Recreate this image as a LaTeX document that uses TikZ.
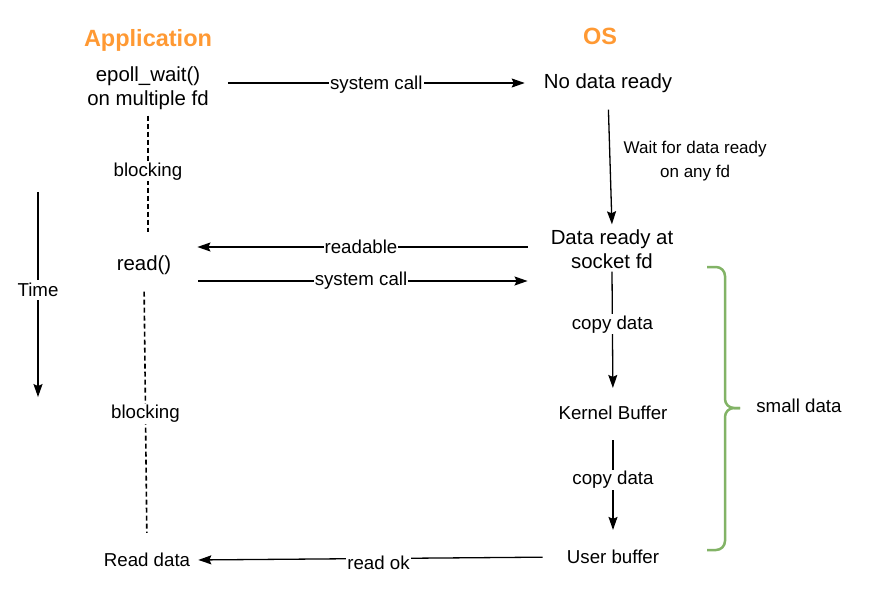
\documentclass[tikz,border=0pt]{standalone}
\usepackage{fontspec}
\setmainfont{Liberation Sans}
\usepackage{tikz}
\usetikzlibrary{arrows.meta}
\definecolor{apporange}{HTML}{FF9933}
\definecolor{bracegreen}{HTML}{82B366}
\tikzstyle{heading} = [font=\fontsize{23.5}{28}\selectfont\bfseries, text=apporange]
\tikzstyle{event} = [font=\fontsize{20.4}{24}\selectfont, align=center, inner sep=3pt]
\tikzstyle{note} = [font=\fontsize{18.7}{22}\selectfont, inner sep=3pt]
\tikzstyle{waitnote} = [font=\fontsize{17}{24}\selectfont, align=center, inner sep=3pt]
\tikzstyle{tag} = [font=\fontsize{18.7}{22}\selectfont, fill=white, inner sep=1pt]
\tikzstyle{arrow} = [line width=1.3pt, -{Stealth[length=13pt,width=9pt,inset=2pt]}]
\tikzstyle{blockline} = [line width=1.6pt, dash pattern=on 5pt off 3pt]
\tikzstyle{brace} = [line width=2.5pt, draw=bracegreen, rounded corners=9pt]
\begin{document}
\begin{tikzpicture}[node distance=24pt, x=1pt, y=1pt]
\useasboundingbox (0,0) rectangle (876,-602);
\node (app) [heading] at (148,-40) {Application};
\node (os) [heading, right of=app, xshift=428pt, yshift=4pt] {OS};
\node (ep) [event, below of=app, yshift=-24pt] {epoll\_wait()\\on multiple fd};
\node (nd) [event, below of=os, yshift=-23pt, xshift=8pt] {No data ready};
\node (rd) [event, below of=ep, yshift=-153pt, xshift=-4pt] {read()};
\node (dr) [event, below of=nd, yshift=-142pt, xshift=4pt] {Data ready at\\socket fd};
\node (kb) [note, below of=dr, yshift=-140pt, xshift=1pt] {Kernel Buffer};
\node (ub) [note, below of=kb, yshift=-120pt] {User buffer};
\node (rdd) [note, below of=rd, yshift=-271pt, xshift=3pt] {Read data};
\node (time) [note, left of=rd, xshift=-82pt, yshift=-25pt] {Time};
\node (sd) [note, right of=kb, xshift=162pt, yshift=7pt] {small data};
\coordinate (tstart) at ([yshift=88pt]time.north);
\coordinate (tend) at ([yshift=-97pt]time.south);

\draw [arrow, shorten <=16pt, shorten >=16pt] (ep.east |- nd) -- node[tag, yshift=-2pt] {system call} (nd.west);
\draw [arrow, shorten <=14pt, shorten >=2pt] (nd.south) -- node[waitnote, right, xshift=10pt] {Wait for data ready\\on any fd} (dr.north);
\draw [arrow, shorten <=20pt, shorten >=23pt] ([yshift=2pt]dr.west) -- ([yshift=2pt]dr.west -| rd.east) node[tag, pos=0.5] {readable};
\draw [arrow, shorten <=24pt, shorten >=20pt] ([yshift=-16pt]rd.east) -- node[tag] {system call} ([yshift=-16pt]rd.east -| dr.west);
\draw [arrow, shorten >=15pt] (dr.south) -- node[tag, pos=0.4] {copy data} (kb.north);
\draw [arrow, shorten <=17pt, shorten >=17pt] (kb.south) -- node[tag, pos=0.46] {copy data} (ub.north);
\draw [arrow, shorten <=21pt, shorten >=5pt] (ub.west) -- node[tag, yshift=-4pt] {read ok} (rdd.east);
\draw [blockline, shorten <=3pt, shorten >=20pt] (ep.south) -- node[tag, pos=0.42] {blocking} (ep.south |- rd.north);
\draw [blockline, shorten <=14pt, shorten >=17pt] (rd.south) -- node[tag] {blocking} (rdd.north);
\draw [line width=1.3pt] (tstart) -- (time.north);
\draw [arrow] (time.south) -- (tend);

% brace round the copy steps
\draw [brace] (707,-267) -- (725,-267) -- (725,-408) -- (740,-408);
\draw [brace] (707,-550) -- (725,-550) -- (725,-408) -- (740,-408);

\end{tikzpicture}
\end{document}
